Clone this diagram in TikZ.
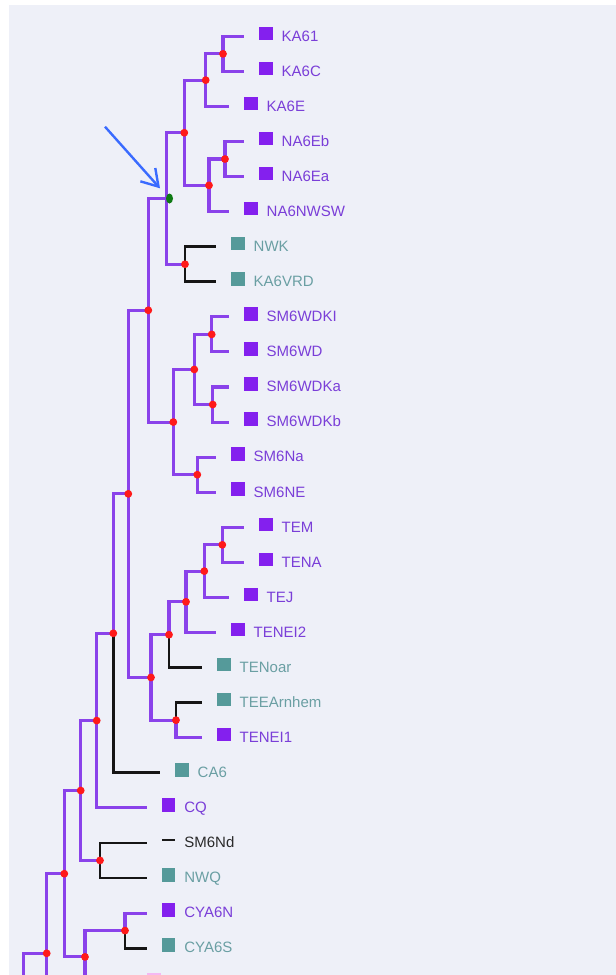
\documentclass[tikz,border=0pt]{standalone}
\usepackage{fontspec}
\setmainfont{Liberation Sans}
\usetikzlibrary{arrows.meta,shapes.geometric}

\definecolor{panelbg}{HTML}{EEF0F8}
\definecolor{branchP}{HTML}{8A42EA}
\definecolor{branchK}{HTML}{151515}
\definecolor{markP}{HTML}{8420EE}
\definecolor{markT}{HTML}{559A9A}
\definecolor{markK}{HTML}{1A1A1A}
\definecolor{textP}{HTML}{7A3ED8}
\definecolor{textT}{HTML}{6A9FA3}
\definecolor{textK}{HTML}{2A2A2A}
\definecolor{nodeRed}{HTML}{FF1A1A}
\definecolor{nodeGreen}{HTML}{0E7A14}
\definecolor{markPink}{HTML}{F5B8F2}
\definecolor{pointerBlue}{HTML}{3A6BFF}

\tikzset{
  pbr/.style={draw=branchP, line width=3.1pt},
  kbr/.style={draw=branchK, line width=2.8pt},
  reddot/.style={circle, fill=nodeRed, inner sep=0pt, minimum size=7.8pt},
  greendot/.style={ellipse, fill=nodeGreen, inner sep=0pt, minimum width=7pt, minimum height=10pt},
  leafmark/.style={rectangle, inner sep=0pt, minimum width=13.5pt, minimum height=13.5pt},
  dashmark/.style={rectangle, inner sep=0pt, minimum width=13.5pt, minimum height=1.6pt, fill=markK},
  lbl/.style={anchor=base west, inner sep=0pt, font=\fontsize{15}{18}\selectfont},
  pointer/.style={draw=pointerBlue, line width=2.4pt,
    -{Straight Barb[length=16pt, width=20pt, line width=2.4pt]}},
}

% leaf: #1 name, #2 row y, #3 end of branch x, #4 colour kind (P/T), #5 label
\newcommand\leafnode[5]{%
  \coordinate (#1) at (#3,#2);
  \node[leafmark, fill=mark#4] (#1-m) at ({#3+21.75},{#2-3}) {};
  \node[lbl, text=text#4] (#1-t) at ({#3+37.5},{#2+4.8}) {#5};
}

\begin{document}
\begin{tikzpicture}[x=1pt, y=-1pt]
\useasboundingbox (0,0) rectangle (616,975);
\clip (0,0) rectangle (616,975);
\fill[white] (0,0) rectangle (616,975);
\fill[panelbg] (9,5) rectangle (616,975);

% leaves
\leafnode{KA61}{36.3}{244}{P}{KA61}
\leafnode{KA6C}{71.37}{244}{P}{KA6C}
\leafnode{KA6E}{106.44}{229}{P}{KA6E}
\leafnode{NA6Eb}{141.51}{244}{P}{NA6Eb}
\leafnode{NA6Ea}{176.58}{244}{P}{NA6Ea}
\leafnode{NA6NWSW}{211.65}{229}{P}{NA6NWSW}
\leafnode{NWK}{246.72}{216}{T}{NWK}
\leafnode{KA6VRD}{281.79}{216}{T}{KA6VRD}
\leafnode{SM6WDKI}{316.86}{229}{P}{SM6WDKI}
\leafnode{SM6WD}{351.93}{229}{P}{SM6WD}
\leafnode{SM6WDKa}{387.0}{229}{P}{SM6WDKa}
\leafnode{SM6WDKb}{422.07}{229}{P}{SM6WDKb}
\leafnode{SM6Na}{457.14}{216}{P}{SM6Na}
\leafnode{SM6NE}{492.21}{216}{P}{SM6NE}
\leafnode{TEM}{527.28}{244}{P}{TEM}
\leafnode{TENA}{562.35}{244}{P}{TENA}
\leafnode{TEJ}{597.42}{229}{P}{TEJ}
\leafnode{TENEI2}{632.49}{216}{P}{TENEI2}
\leafnode{TENoar}{667.56}{202}{T}{TENoar}
\leafnode{TEEArnhem}{702.63}{202}{T}{TEEArnhem}
\leafnode{TENEI1}{737.7}{202}{P}{TENEI1}
\leafnode{CA6}{772.77}{160}{T}{CA6}
\leafnode{CQ}{807.84}{146.7}{P}{CQ}
\coordinate (SM6Nd) at (146.7,842.91);
\node[dashmark] (SM6Nd-m) at (168.45,840.1) {};
\node[lbl, text=textK] (SM6Nd-t) at (184.2,847.71) {SM6Nd};
\leafnode{NWQ}{877.98}{146.7}{T}{NWQ}
\leafnode{CYA6N}{913.05}{146.7}{P}{CYA6N}
\leafnode{CYA6S}{948.12}{146.7}{T}{CYA6S}
\coordinate (L27) at (132,983.19);
\node[leafmark, fill=markPink] (L27-m) at (153.75,980.19) {};

% inner nodes of the tree
\coordinate (nKA61C) at (223,53.835);
\coordinate (nKA) at (205.7,80.14);
\coordinate (nNAE) at (225,159.045);
\coordinate (nNA) at (209,185.35);
\coordinate (nKANA) at (184.3,132.745);
\coordinate (nNWK) at (185,264.255);
\coordinate (nGr) at (166.7,198.5);
\coordinate (nSMa) at (211.7,334.395);
\coordinate (nSMb) at (212.7,404.535);
\coordinate (nSMab) at (194.3,369.465);
\coordinate (nSMN) at (197.3,474.675);
\coordinate (nSM) at (173.3,422.07);
\coordinate (nTop) at (148.3,310.285);
\coordinate (nTEMA) at (222.3,544.815);
\coordinate (nTEJ) at (204.3,571.12);
\coordinate (nTEI2) at (186,601.80);
\coordinate (nTEoar) at (169,634.68);
\coordinate (nTEA) at (176,720.165);
\coordinate (nTE) at (151,677.42);
\coordinate (nA) at (128.3,493.85);
\coordinate (nB) at (113.3,633.31);
\coordinate (nC) at (96.7,720.575);
\coordinate (nSMNd) at (100,860.445);
\coordinate (nD) at (80.7,790.51);
\coordinate (nCYA) at (125,930.585);
\coordinate (nE) at (85,956.89);
\coordinate (nF) at (64.3,873.70);
\coordinate (nG) at (46.7,953.3);
\coordinate (offG) at (70,1033);
\coordinate (nH) at (23.3,1100);

% branches
\draw[pbr] (nKA61C) |- (KA61);  \draw[pbr] (nKA61C) |- (KA6C);
\draw[pbr] (nKA) |- (nKA61C);   \draw[pbr] (nKA) |- (KA6E);
\draw[pbr] (nNAE) |- (NA6Eb);   \draw[pbr] (nNAE) |- (NA6Ea);
\draw[pbr] (nNA) |- (nNAE);     \draw[pbr] (nNA) |- (NA6NWSW);
\draw[pbr] (nKANA) |- (nKA);    \draw[pbr] (nKANA) |- (nNA);
\draw[kbr] (nNWK) |- (NWK);     \draw[kbr] (nNWK) |- (KA6VRD);
\draw[pbr] (nGr) |- (nKANA);    \draw[pbr] (nGr) |- (nNWK);
\draw[pbr] (nSMa) |- (SM6WDKI); \draw[pbr] (nSMa) |- (SM6WD);
\draw[pbr] (nSMb) |- (SM6WDKa); \draw[pbr] (nSMb) |- (SM6WDKb);
\draw[pbr] (nSMab) |- (nSMa);   \draw[pbr] (nSMab) |- (nSMb);
\draw[pbr] (nSMN) |- (SM6Na);   \draw[pbr] (nSMN) |- (SM6NE);
\draw[pbr] (nSM) |- (nSMab);    \draw[pbr] (nSM) |- (nSMN);
\draw[pbr] (nTop) |- (nGr);     \draw[pbr] (nTop) |- (nSM);
\draw[pbr] (nTEMA) |- (TEM);    \draw[pbr] (nTEMA) |- (TENA);
\draw[pbr] (nTEJ) |- (nTEMA);   \draw[pbr] (nTEJ) |- (TEJ);
\draw[pbr] (nTEI2) |- (nTEJ);   \draw[pbr] (nTEI2) |- (TENEI2);
\draw[pbr] (nTEoar) |- (nTEI2); \draw[kbr] (nTEoar) |- (TENoar);
\draw[kbr] (nTEA) |- (TEEArnhem); \draw[pbr] (nTEA) |- (TENEI1);
\draw[pbr] (nTE) |- (nTEoar);   \draw[pbr] (nTE) |- (nTEA);
\draw[pbr] (nA) |- (nTop);      \draw[pbr] (nA) |- (nTE);
\draw[pbr] (nB) |- (nA);        \draw[kbr] (nB) |- (CA6);
\draw[pbr] (nC) |- (nB);        \draw[pbr] (nC) |- (CQ);
\draw[kbr] (nSMNd) |- (SM6Nd);  \draw[kbr] (nSMNd) |- (NWQ);
\draw[pbr] (nD) |- (nC);        \draw[pbr] (nD) |- (nSMNd);
\draw[pbr] (nCYA) |- (CYA6N);   \draw[kbr] (nCYA) |- (CYA6S);
\draw[pbr] (nE) |- (nCYA);      \draw[pbr] (nE) |- (L27);
\draw[pbr] (nF) |- (nD);        \draw[pbr] (nF) |- (nE);
\draw[pbr] (nG) |- (nF);        \draw[pbr] (nG) |- (offG);
\draw[pbr] (nH) |- (nG);

% node markers
\foreach \n in {nKA61C,nKA,nNAE,nNA,nKANA,nNWK,nSMa,nSMb,nSMab,nSMN,nSM,nTop,
                nTEMA,nTEJ,nTEI2,nTEoar,nTEA,nTE,nA,nB,nC,nSMNd,nD,nCYA,nE,nF,nG}
  \node[reddot] (\n-dot) at (\n) {};
\node[greendot] (nGr-dot) at ([xshift=2.8pt]nGr) {};

% pointer to the highlighted node
\coordinate (pointerTail) at (105,126.7);
\coordinate (pointerTip) at (160,188.3);
\draw[pointer] (pointerTail) -- (pointerTip);
\end{tikzpicture}
\end{document}
